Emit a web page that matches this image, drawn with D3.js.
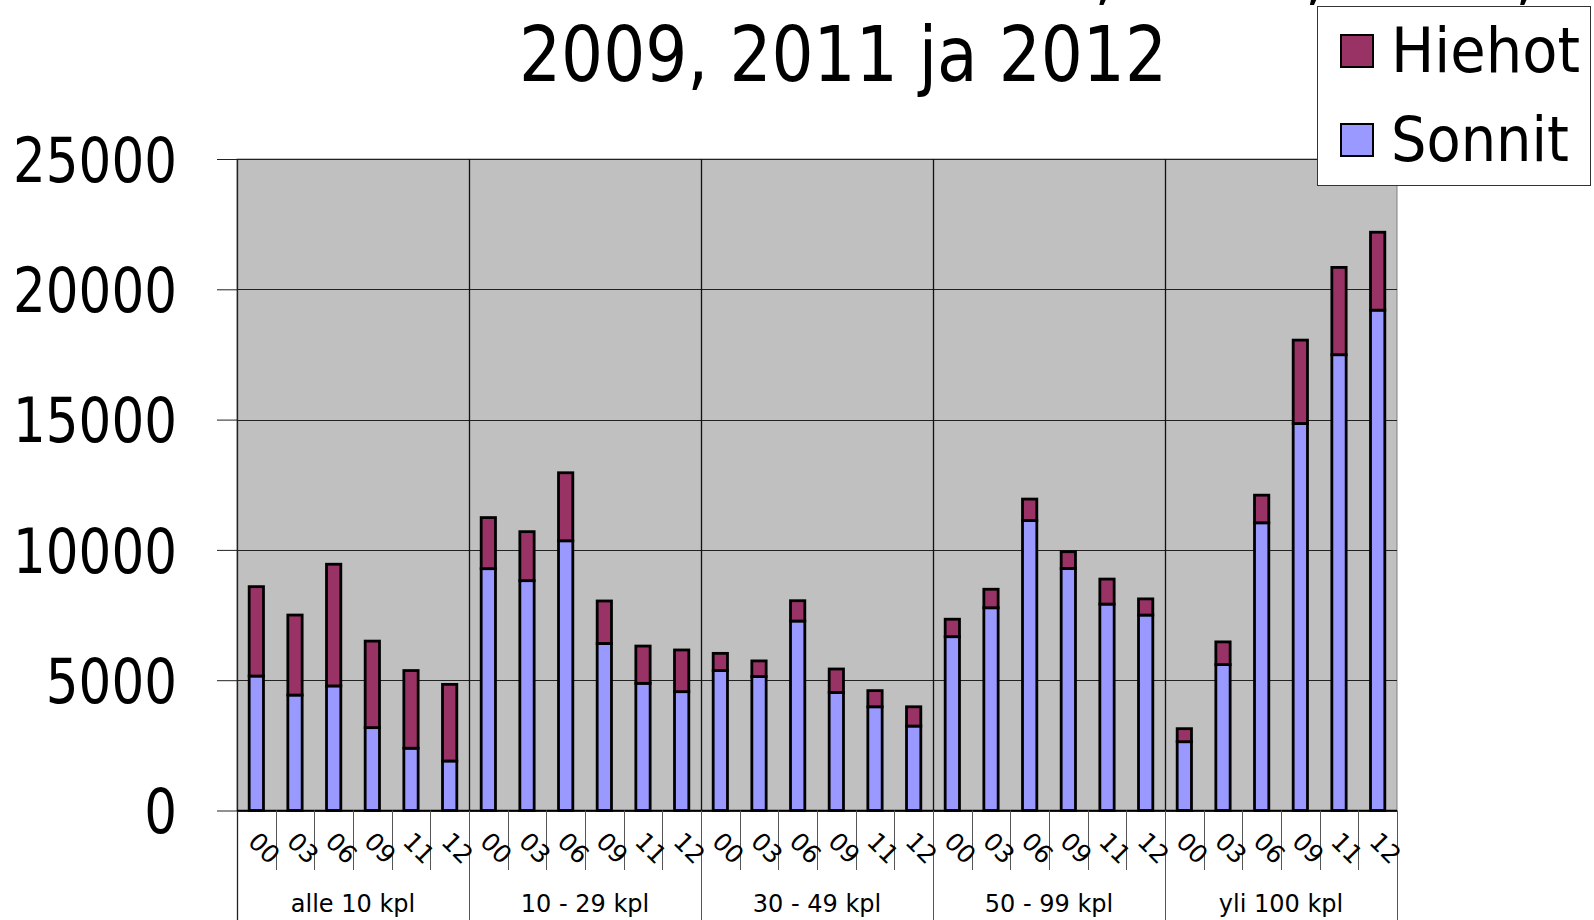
<!DOCTYPE html>
<html>
<head>
<meta charset="utf-8">
<script src="https://cdn.jsdelivr.net/npm/d3@7"></script>
<style>
  html, body { margin: 0; padding: 0; background: #fff; }
  svg { display: block; }
  text { font-family: "DejaVu Sans", Verdana, sans-serif; fill: #000; }
</style>
</head>
<body>
<svg id="chart" width="1594" height="920"></svg>
<script>
// ---- data ----
const groups = ["alle 10 kpl", "10 - 29 kpl", "30 - 49 kpl", "50 - 99 kpl", "yli 100 kpl"];
const years = ["00", "03", "06", "09", "11", "12"];
const seriesNames = ["Sonnit", "Hiehot"];
const sonnit = [
  5160, 4430, 4780, 3180, 2390, 1900,
  9280, 8820, 10350, 6410, 4880, 4560,
  5370, 5140, 7270, 4530, 3980, 3240,
  6670, 7780, 11130, 9290, 7920, 7500,
  2640, 5600, 11040, 14850, 17490, 19200
];
const hiehot = [
  3430, 3070, 4670, 3320, 2980, 2940,
  1960, 1880, 2610, 1630, 1430, 1600,
  660, 600, 780, 900, 620, 740,
  670, 710, 820, 640, 960, 620,
  500, 870, 1060, 3200, 3350, 2990
];
const yTicks = [0, 5000, 10000, 15000, 20000, 25000];
const titleLine1 = "2000, 2003, 2006,";
const titleLine2 = "2009, 2011 ja 2012";

const colors = { Sonnit: "#9999ff", Hiehot: "#993366" };

// ---- layout ----
const svg = d3.select("#chart");
const L = 237, R = 1397, T = 159, B = 810.5;

const rows = [];
groups.forEach((g, gi) => years.forEach((yr, yi) => {
  const i = gi * years.length + yi;
  rows.push({ id: i, group: g, year: yr, Sonnit: sonnit[i], Hiehot: hiehot[i] });
}));

const x = d3.scaleBand().domain(rows.map(d => d.id)).range([L, R])
  .paddingInner(0.63).paddingOuter(0.315);
const slot = d3.scaleBand().domain(rows.map(d => d.id)).range([L, R]);
const gx = d3.scaleBand().domain(groups).range([L, R]);
const y = d3.scaleLinear().domain([0, 25000]).range([B, T]);

// plot background
svg.append("rect").attr("x", L).attr("y", T).attr("width", R - L).attr("height", B - T)
  .attr("fill", "#c0c0c0").attr("stroke", "#808080").attr("stroke-width", 1);

// horizontal gridlines
svg.append("g").selectAll("line").data(yTicks).join("line")
  .attr("x1", L).attr("x2", R)
  .attr("y1", d => Math.round(y(d)) + 0.5).attr("y2", d => Math.round(y(d)) + 0.5)
  .attr("stroke", "#222").attr("stroke-width", 1);

// vertical group gridlines
svg.append("g").selectAll("line").data(groups.slice(1)).join("line")
  .attr("x1", d => Math.round(gx(d)) + 0.5).attr("x2", d => Math.round(gx(d)) + 0.5)
  .attr("y1", T).attr("y2", B)
  .attr("stroke", "#111").attr("stroke-width", 1.3);

// y axis
const yAxis = d3.axisLeft(y).tickValues(yTicks).tickSize(20).tickFormat(d3.format("d"));
const ya = svg.append("g").attr("transform", `translate(${L},0)`).call(yAxis);
ya.select(".domain").remove();
ya.selectAll(".tick line").attr("stroke", "#222");
ya.selectAll(".tick text").attr("x", -60).attr("dy", "0.36em")
  .style("font-size", "62px").attr("text-anchor", "end")
  .each(function(d) {
    const n = String(d).length;
    d3.select(this).attr("textLength", n * 32.8).attr("lengthAdjust", "spacingAndGlyphs");
  });
svg.append("line").attr("x1", L + 0.5).attr("x2", L + 0.5).attr("y1", T).attr("y2", 920)
  .attr("stroke", "#222").attr("stroke-width", 1.3);

// stacked bars
const stack = d3.stack().keys(seriesNames);
const stacked = stack(rows);
svg.append("g").selectAll("g").data(stacked).join("g")
  .attr("fill", d => colors[d.key])
  .selectAll("rect").data(d => d).join("rect")
  .attr("x", d => x(d.data.id))
  .attr("width", x.bandwidth())
  .attr("y", d => y(d[1]))
  .attr("height", d => y(d[0]) - y(d[1]))
  .attr("stroke", "#000").attr("stroke-width", 2.8);

// x axis baseline
svg.append("line").attr("x1", L).attr("x2", R).attr("y1", B).attr("y2", B)
  .attr("stroke", "#000").attr("stroke-width", 1.3);

// minor ticks between years
const bounds = rows.map(d => d.id).filter(i => i % years.length !== 0);
svg.append("g").selectAll("line").data(bounds).join("line")
  .attr("x1", d => Math.round(slot(d)) + 0.5).attr("x2", d => Math.round(slot(d)) + 0.5)
  .attr("y1", B).attr("y2", 870).attr("stroke", "#555").attr("stroke-width", 1);
// group boundaries
svg.append("g").selectAll("line").data(groups.slice(1).concat(["__end"])).join("line")
  .attr("x1", d => d === "__end" ? R + 0.5 : Math.round(gx(d)) + 0.5)
  .attr("x2", d => d === "__end" ? R + 0.5 : Math.round(gx(d)) + 0.5)
  .attr("y1", B).attr("y2", 920).attr("stroke", "#555").attr("stroke-width", 1);

// year labels
svg.append("g").selectAll("text").data(rows).join("text")
  .attr("transform", d => `translate(${slot(d.id) + slot.bandwidth() / 2 + 8},${848}) rotate(45)`)
  .attr("text-anchor", "middle").attr("dy", "0.36em")
  .style("font-size", "25px")
  .text(d => d.year);

// group labels
svg.append("g").selectAll("text").data(groups).join("text")
  .attr("x", d => gx(d) + gx.bandwidth() / 2).attr("y", 912)
  .attr("text-anchor", "middle").style("font-size", "24px")
  .text(d => d);

// title (first line mostly above the visible area, as in the reference)
svg.append("text").attr("x", 926).attr("y", -4)
  .attr("textLength", 610).attr("lengthAdjust", "spacingAndGlyphs")
  .style("font-size", "77px").text(titleLine1);
svg.append("text").attr("x", 519).attr("y", 81)
  .attr("textLength", 648).attr("lengthAdjust", "spacingAndGlyphs")
  .style("font-size", "77px").text(titleLine2);

// legend
const lg = svg.append("g");
lg.append("rect").attr("x", 1317.5).attr("y", 6.5).attr("width", 273).attr("height", 179)
  .attr("fill", "#fff").attr("stroke", "#333").attr("stroke-width", 1);
const legendItems = ["Hiehot", "Sonnit"];
const legendW = { Hiehot: 189, Sonnit: 178 };
const li = lg.selectAll("g.item").data(legendItems).join("g").attr("class", "item")
  .attr("transform", (d, i) => `translate(0,${i * 89})`);
li.append("rect").attr("x", 1341).attr("y", 35).attr("width", 32).attr("height", 32)
  .attr("fill", d => colors[d]).attr("stroke", "#000").attr("stroke-width", 2);
li.append("text").attr("x", 1391).attr("y", 72)
  .style("font-size", "62px")
  .attr("textLength", d => legendW[d]).attr("lengthAdjust", "spacingAndGlyphs")
  .text(d => d);
</script>
</body>
</html>
